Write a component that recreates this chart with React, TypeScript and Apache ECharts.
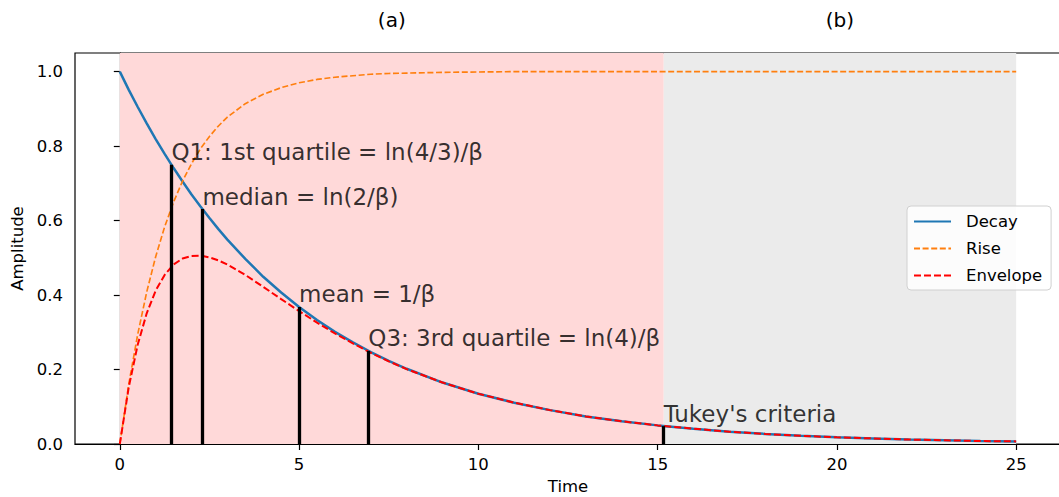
import React, { useEffect, useRef } from "react";
import * as echarts from "echarts";

// Sample times and amplitudes of the three curves (beta = 0.2)
const T = [
  0, 0.25, 0.5, 0.75, 1, 1.25, 1.5, 1.75, 2, 2.25, 2.5, 2.75, 3,
  3.5, 4, 4.5, 5, 5.5, 6, 6.5, 7, 7.5, 8,
  9, 10, 11, 12, 13, 14, 15, 16, 17, 18, 19, 20, 21, 22, 23, 24, 25,
];
const DECAY = [
  1, 0.951, 0.905, 0.861, 0.819, 0.779, 0.741, 0.705, 0.67, 0.638, 0.607, 0.577, 0.549,
  0.497, 0.449, 0.407, 0.368, 0.333, 0.301, 0.273, 0.247, 0.223, 0.202,
  0.165, 0.135, 0.111, 0.091, 0.074, 0.061, 0.05, 0.041, 0.033, 0.027, 0.022, 0.018, 0.015, 0.012, 0.01, 0.008, 0.007,
];
const RISE = [
  0, 0.161, 0.295, 0.408, 0.503, 0.583, 0.65, 0.706, 0.753, 0.793, 0.826, 0.854, 0.878,
  0.914, 0.939, 0.957, 0.97, 0.979, 0.985, 0.989, 0.993, 0.995, 0.996,
  0.998, 0.999, 1, 1, 1, 1, 1, 1, 1, 1, 1, 1, 1, 1, 1, 1, 1,
];
const ENVELOPE = [
  0, 0.153, 0.267, 0.351, 0.412, 0.454, 0.482, 0.498, 0.505, 0.506, 0.501, 0.493, 0.482,
  0.454, 0.422, 0.389, 0.357, 0.326, 0.297, 0.27, 0.245, 0.222, 0.201,
  0.165, 0.135, 0.111, 0.091, 0.074, 0.061, 0.05, 0.041, 0.033, 0.027, 0.022, 0.018, 0.015, 0.012, 0.01, 0.008, 0.007,
];

// Characteristic times on the decay curve
const MARK_T = [1.438, 2.303, 5, 6.931, 15.17];
const MARK_AMP = [0.75, 0.631, 0.368, 0.25, 0.048];
const MARK_LABELS = [
  "Q1: 1st quartile = ln(4/3)/β",
  "median = ln(2/β)",
  "mean = 1/β",
  "Q3: 3rd quartile = ln(4)/β",
  "Tukey's criteria",
];

// Shaded spans
const SPAN_A = [0, 15.17];
const SPAN_B = [15.17, 25];
const PANEL_TITLES = ["(a)", "(b)"];

const X_TICKS = [0, 5, 10, 15, 20, 25];
const Y_TICKS = [0, 0.2, 0.4, 0.6, 0.8, 1.0];

const FONT = "DejaVu Sans";

export default function App() {
  const ref = useRef<HTMLDivElement>(null);

  useEffect(() => {
    if (!ref.current) return;
    const chart = echarts.init(ref.current, null, { renderer: "svg" });
    const pairs = (ys: number[]) => T.map((t, i) => [t, ys[i]]);

    chart.setOption({
      animation: false,
      grid: {
        left: 75,
        top: 53,
        width: 986,
        height: 391,
        containLabel: false,
        outerBoundsMode: "none",
        show: true,
        borderColor: "#000",
        borderWidth: 1.2,
        backgroundColor: "transparent",
      },
      xAxis: {
        type: "value",
        min: -1.25,
        max: 26.25,
        name: "Time",
        nameLocation: "middle",
        nameGap: 34,
        nameTextStyle: { fontFamily: FONT, fontSize: 16.5, color: "#000" },
        splitLine: { show: false },
        axisLine: { show: true, onZero: false, lineStyle: { color: "#000", width: 1.2 } },
        axisTick: { show: true, length: 6, lineStyle: { color: "#000", width: 1.2 }, customValues: X_TICKS },
        axisLabel: {
          fontFamily: FONT,
          fontSize: 16.5,
          color: "#000",
          margin: 12,
          customValues: X_TICKS,
          formatter: (v: number) => String(v),
        },
      },
      yAxis: {
        type: "value",
        min: 0,
        max: 1.05,
        name: "Amplitude",
        nameLocation: "middle",
        nameGap: 49,
        nameTextStyle: { fontFamily: FONT, fontSize: 16.5, color: "#000" },
        splitLine: { show: false },
        axisLine: { show: true, lineStyle: { color: "#000", width: 1.2 } },
        axisTick: { show: true, length: 6, lineStyle: { color: "#000", width: 1.2 }, customValues: Y_TICKS },
        axisLabel: {
          fontFamily: FONT,
          fontSize: 16.5,
          color: "#000",
          margin: 12,
          customValues: Y_TICKS,
          formatter: (v: number) => v.toFixed(1),
        },
      },
      legend: {
        data: ["Decay", "Rise", "Envelope"],
        orient: "vertical",
        left: 907,
        top: 206,
        padding: [7, 9, 6, 6],
        itemWidth: 37,
        itemHeight: 14,
        itemGap: 10,
        itemStyle: { opacity: 0, borderWidth: 0 },
        backgroundColor: "rgba(255,255,255,0.85)",
        borderColor: "#d0d0d0",
        borderWidth: 1,
        borderRadius: 4,
        textStyle: { fontFamily: FONT, fontSize: 16.5, color: "#000", padding: [0, 0, 0, 10] },
      },
      series: [
        {
          name: "spans",
          type: "line",
          data: [],
          z: 0,
          silent: true,
          markArea: {
            silent: true,
            data: [
              [{ xAxis: SPAN_A[0], itemStyle: { color: "#ffd9d9" } }, { xAxis: SPAN_A[1] }],
              [{ xAxis: SPAN_B[0], itemStyle: { color: "#ebebeb" } }, { xAxis: SPAN_B[1] }],
            ],
          },
        },
        {
          name: "Decay",
          type: "line",
          data: pairs(DECAY),
          showSymbol: false,
          symbol: "none",
          z: 3,
          lineStyle: { color: "#1f77b4", width: 2.5, type: "solid" },
          itemStyle: { color: "#1f77b4" },
        },
        {
          name: "Rise",
          type: "line",
          data: pairs(RISE),
          showSymbol: false,
          symbol: "none",
          z: 3,
          lineStyle: { color: "#ff7f0e", width: 1.65, type: [6, 2.6] },
          itemStyle: { color: "#ff7f0e" },
        },
        {
          name: "Envelope",
          type: "line",
          data: pairs(ENVELOPE),
          showSymbol: false,
          symbol: "none",
          z: 4,
          lineStyle: { color: "#ff0000", width: 2, type: [7, 3] },
          itemStyle: { color: "#ff0000" },
        },
        {
          name: "marks",
          type: "scatter",
          symbolSize: 0,
          z: 5,
          silent: true,
          data: MARK_T.map((t, i) => ({ value: [t, MARK_AMP[i]], name: MARK_LABELS[i] })),
          label: {
            show: true,
            position: "top",
            distance: 1,
            align: "left",
            verticalAlign: "bottom",
            formatter: "{b}",
            fontFamily: FONT,
            fontSize: 23,
            color: "#000",
          },
          markLine: {
            silent: true,
            symbol: ["none", "none"],
            label: { show: false },
            lineStyle: { color: "#000", width: 3.3, type: "solid" },
            data: MARK_T.map((t, i) => [{ coord: [t, 0] }, { coord: [t, MARK_AMP[i]] }]),
          },
        },
      ],
    });

    // Panel titles centred over each shaded span
    const mids = [(SPAN_A[0] + SPAN_A[1]) / 2, (SPAN_B[0] + SPAN_B[1]) / 2];
    chart.setOption({
      graphic: mids.map((m, i) => ({
        type: "text",
        x: chart.convertToPixel({ xAxisIndex: 0 }, m) as number,
        y: 20,
        style: {
          text: PANEL_TITLES[i],
          align: "center",
          verticalAlign: "middle",
          fontFamily: FONT,
          fontSize: 20,
          fill: "#000",
        },
      })),
    });

    return () => chart.dispose();
  }, []);

  return (
    <div
      ref={ref}
      style={{ position: "fixed", left: 0, top: 0, width: 1059, height: 497, background: "#fff" }}
    />
  );
}
